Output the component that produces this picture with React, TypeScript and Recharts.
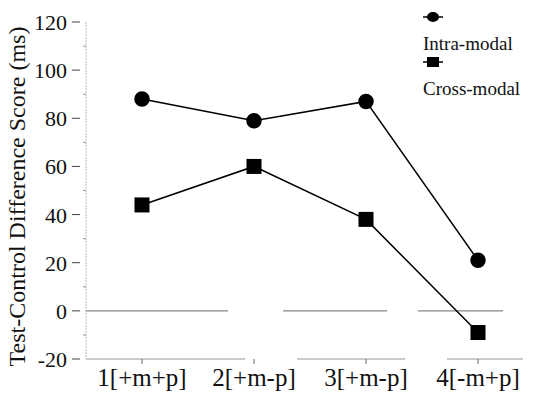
import React from "react";
import {
  LineChart,
  Line,
  XAxis,
  YAxis,
  ReferenceLine,
  Label,
} from "recharts";

const conditions = ["1[+m+p]", "2[+m-p]", "3[+m-p]", "4[-m+p]"];
const intraModal = [88, 79, 87, 21];
const crossModal = [44, 60, 38, -9];
const yTicks = [-20, -10, 0, 10, 20, 30, 40, 50, 60, 70, 80, 90, 100, 110, 120];

const data = conditions.map((c, i) => ({
  name: c,
  intra: intraModal[i],
  cross: crossModal[i],
}));

const FONT = "Liberation Serif, Times New Roman, serif";

const YTick = (props: any) => {
  const { x, y, payload } = props;
  const v = payload.value;
  const major = v % 20 === 0;
  if (!major) {
    return <line x1={x + 5} x2={x + 8} y1={y} y2={y} stroke="#999" strokeWidth={1} />;
  }
  return (
    <g>
      <line x1={x - 6} x2={x + 2} y1={y} y2={y} stroke="#444" strokeWidth={1} />
      <text x={x - 11} y={y} dy={8} textAnchor="end" style={{ fontSize: 22, fontFamily: FONT }} fill="#111">
        {v}
      </text>
    </g>
  );
};

const XTick = (props: any) => {
  const { x, y, payload } = props;
  return (
    <text x={x} y={y + 20} textAnchor="middle" style={{ fontSize: 25, fontFamily: FONT }} fill="#111">
      {payload.value}
    </text>
  );
};

const YTitle = (props: any) => {
  const { viewBox } = props;
  const x = viewBox.x + 19;
  const y = viewBox.y + viewBox.height / 2 + 6;
  return (
    <text
      x={x}
      y={y}
      transform={`rotate(-90, ${x}, ${y})`}
      textAnchor="middle"
      style={{ fontSize: 24, fontFamily: FONT }}
      fill="#111"
    >
      Test-Control Difference Score (ms)
    </text>
  );
};

const LegendBox = () => (
  <svg width={110} height={100} style={{ position: "absolute", left: 420, top: 0 }}>
    <line x1={3} x2={23} y1={17} y2={17} stroke="#000" strokeWidth={1.5} />
    <ellipse cx={13} cy={17} rx={6} ry={5} fill="#000" />
    <text x={3} y={50} style={{ fontSize: 19, fontFamily: FONT }} fill="#111">Intra-modal</text>
    <line x1={3} x2={23} y1={62} y2={62} stroke="#000" strokeWidth={1.5} />
    <rect x={7} y={57} width={12} height={10} fill="#000" />
    <text x={3} y={95} style={{ fontSize: 19, fontFamily: FONT }} fill="#111">Cross-modal</text>
  </svg>
);

const Square = (props: any) => {
  const { cx, cy } = props;
  return <rect x={cx - 7.5} y={cy - 7.5} width={15} height={15} fill="#000" />;
};

export default function App() {
  return (
    <div style={{ position: "absolute", left: 0, top: 0, width: 534, height: 394, background: "#fff" }}>
      <LineChart
        width={534}
        height={394}
        data={data}
        margin={{ top: 22, right: 0, bottom: 0, left: 6 }}
      >
        <XAxis
          dataKey="name"
          height={35}
          padding={{ left: 56, right: 56 }}
          axisLine={{ stroke: "#999", strokeDasharray: "159 52 108 42 76 40" }}
          tickLine={{ stroke: "#666" }}
          tickSize={5}
          tick={(p: any) => <XTick {...p} />}
        />
        <YAxis
          domain={[-20, 120]}
          ticks={yTicks}
          interval={0}
          width={80}
          stroke="#bbb"
          strokeDasharray="2 1"
          tickLine={false}
          tick={(p: any) => <YTick {...p} />}
        >
          <Label content={(p: any) => <YTitle {...p} />} />
        </YAxis>
        <ReferenceLine y={0} stroke="#888" strokeWidth={1.2} strokeDasharray="142 55 104 31 85 60" />
        <Line
          type="linear"
          dataKey="intra"
          stroke="#000"
          strokeWidth={1.5}
          dot={{ r: 7, fill: "#000", stroke: "#000" }}
          isAnimationActive={false}
        />
        <Line
          type="linear"
          dataKey="cross"
          stroke="#000"
          strokeWidth={1.5}
          dot={(p: any) => <Square key={p.index} {...p} />}
          isAnimationActive={false}
        />
      </LineChart>
      <LegendBox />
    </div>
  );
}
